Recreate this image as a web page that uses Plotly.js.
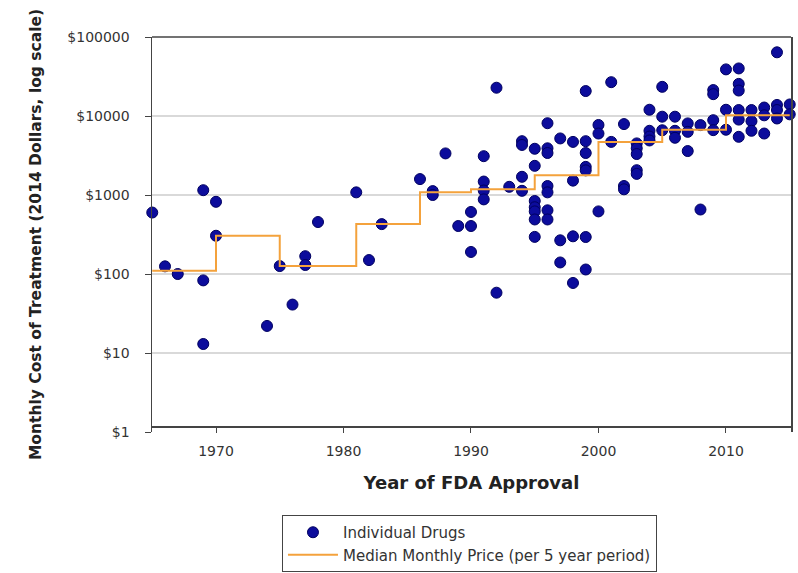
<!DOCTYPE html>
<html>
<head>
<meta charset="utf-8">
<script src="https://cdn.plot.ly/plotly-3.0.1.min.js"></script>
<style>html,body{margin:0;padding:0;background:#fff;}#chart{width:798px;height:573px;}</style>
</head>
<body>
<div id="chart"></div>
<script>
// Individual drugs: year of FDA approval and monthly cost (2014 dollars)
var drugYear = [
  1965, 1966, 1967, 1969, 1969, 1969, 1970, 1970, 1974, 1975, 1976, 1977, 1977, 1978,
  1981, 1982, 1983, 1986, 1987, 1987, 1988, 1989, 1990, 1990, 1990,
  1991, 1991, 1991, 1991, 1992, 1992, 1993, 1994, 1994, 1994, 1994,
  1995, 1995, 1995, 1995, 1995, 1995, 1995,
  1996, 1996, 1996, 1996, 1996, 1996, 1996,
  1997, 1997, 1997, 1998, 1998, 1998, 1998,
  1999, 1999, 1999, 1999, 1999, 1999, 1999,
  2000, 2000, 2000, 2001, 2001, 2002, 2002, 2002,
  2003, 2003, 2003, 2003, 2003, 2004, 2004, 2004, 2004,
  2005, 2005, 2005, 2006, 2006, 2006, 2007, 2007, 2007, 2008, 2008,
  2009, 2009, 2009, 2009, 2010, 2010, 2010,
  2011, 2011, 2011, 2011, 2011, 2011, 2012, 2012, 2012,
  2013, 2013, 2013, 2014, 2014, 2014, 2014, 2015, 2015
];
var drugCost = [
  600, 125, 100, 1150, 83, 13, 820, 305, 22, 126, 41, 168, 130, 455,
  1080, 150, 428, 1590, 1120, 1000, 3360, 405, 610, 405, 190,
  3100, 1480, 1140, 880, 22800, 58, 1270, 4800, 4300, 1700, 1130,
  3850, 2340, 840, 700, 620, 490, 295,
  8100, 3900, 3400, 1300, 1080, 640, 490,
  5200, 267, 140, 4700, 1520, 300, 77,
  20700, 4800, 3400, 2270, 2050, 294, 114,
  7700, 6000, 620, 26800, 4700, 7900, 1300, 1180,
  4500, 3900, 3300, 2060, 1850, 12000, 6500, 5500, 4900,
  23400, 9800, 6600, 9800, 6500, 5300, 8060, 6300, 3600, 7670, 655,
  21300, 18900, 8850, 6620, 38900, 12000, 6700,
  40000, 25500, 21000, 11900, 9000, 5450, 11900, 8600, 6500,
  12800, 10200, 6000, 64000, 13800, 11900, 9300, 14000, 10500
];
// Median monthly price per 5 year period (step starts)
var medianYear = [1965, 1970, 1975, 1981, 1986, 1990, 1995, 2000, 2005, 2010, 2015];
var medianCost = [110, 305, 126, 430, 1080, 1180, 1780, 4700, 6700, 10200, 10200];
// Axis ticks
var xTicks = [1970, 1980, 1990, 2000, 2010];
var yTicks = [1, 10, 100, 1000, 10000, 100000];
var yTickText = ['$1', '$10', '$100', '$1000', '$10000', '$100000'];

var axisColor = '#444';
var tickFont = {family: 'DejaVu Sans', size: 14, color: '#333'};

var traces = [
  {
    type: 'scatter', mode: 'markers', name: 'Individual Drugs',
    x: drugYear, y: drugCost, cliponaxis: false,
    marker: {size: 11, color: '#0c0c9c', line: {color: '#000060', width: 1}}
  },
  {
    type: 'scatter', mode: 'lines', name: 'Median Monthly Price (per 5 year period)',
    x: medianYear, y: medianCost,
    line: {shape: 'hv', color: '#f4a23c', width: 2}
  }
];

var layout = {
  width: 798, height: 573,
  margin: {l: 152, r: 7, t: 37, b: 141, autoexpand: false},
  paper_bgcolor: '#fff', plot_bgcolor: '#fff',
  showlegend: true,
  xaxis: {
    range: [1964.98, 2015.1], anchor: 'free', position: 0.015,
    tickvals: xTicks, ticktext: xTicks.map(String),
    showgrid: false, zeroline: false,
    showline: true, linecolor: axisColor, linewidth: 1.5,
    ticks: 'outside', ticklen: 5, tickcolor: axisColor,
    ticklabelstandoff: 7,
    tickfont: tickFont,
    title: {text: 'Year of FDA Approval', standoff: 18,
      font: {family: 'DejaVu Sans', size: 18, color: '#222', weight: 'bold'}}
  },
  yaxis: {
    type: 'log', range: [0, 5],
    tickvals: yTicks, ticktext: yTickText,
    showgrid: true, gridcolor: '#d9d9d9', gridwidth: 2, zeroline: false,
    showline: true, linecolor: axisColor, linewidth: 1.5, mirror: true,
    ticks: 'outside', ticklen: 6, tickcolor: axisColor,
    ticklabelstandoff: 12,
    tickfont: tickFont,
    title: {text: 'Monthly Cost of Treatment (2014 Dollars, log scale)', standoff: 22,
      font: {family: 'DejaVu Sans', size: 15.5, color: '#222', weight: 'bold'}}
  },
  shapes: [
    {type: 'line', xref: 'paper', yref: 'paper', x0: 0, x1: 1, y0: 1, y1: 1,
     line: {color: axisColor, width: 1.5}}
  ],
  legend: {
    x: 0.2034, y: -0.2101, xanchor: 'left', yanchor: 'top',
    bgcolor: '#fff', bordercolor: axisColor, borderwidth: 1,
    itemwidth: 50,
    font: {family: 'DejaVu Sans', size: 15, color: '#333'}
  }
};

Plotly.newPlot('chart', traces, layout, {staticPlot: true, displayModeBar: false});
</script>
</body>
</html>
